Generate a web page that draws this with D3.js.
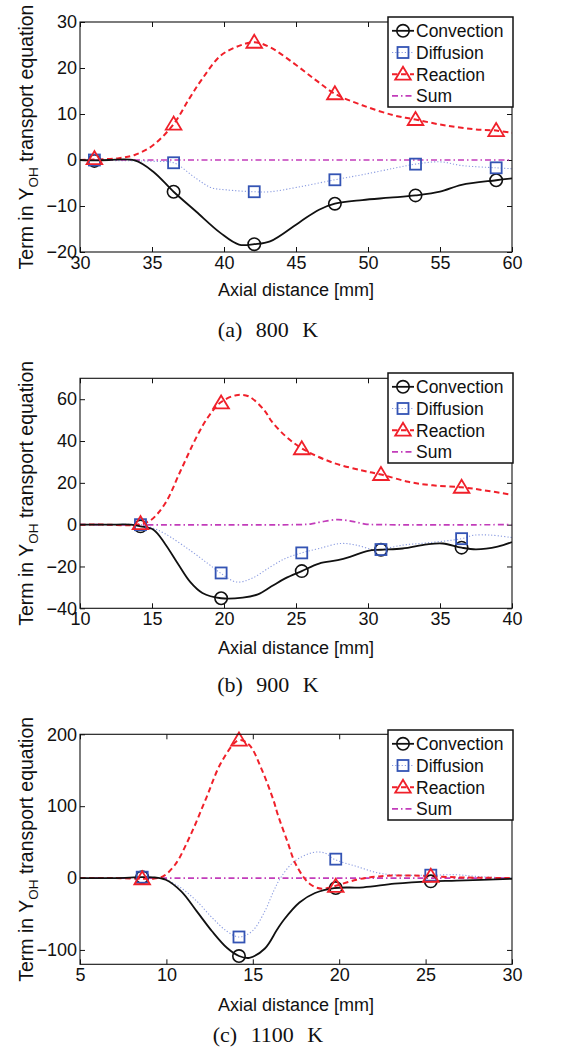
<!DOCTYPE html>
<html><head><meta charset="utf-8">
<script src="https://cdn.jsdelivr.net/npm/d3@7"></script>
<style>
html,body{margin:0;padding:0;background:#fff;}
svg{display:block;}
text{font-family:"Liberation Sans",Arial,sans-serif;fill:#111;}
.cap{font-family:"Liberation Serif","Times New Roman",serif;}
</style></head><body>
<svg id="chart" width="563" height="1060"></svg>
<script>
// ---------- Panel (a) 800 K ----------
const convX_a = [30, 31, 32, 33.8, 35.07, 36.5, 38.06, 39.77, 41.04, 42.1, 43.2, 45.3, 46.6, 47.7, 49.6, 51.5, 53.3, 55, 56.5, 58.9, 60];
const convY_a = [0, -0.1, 0, -0.1, -2.5, -6.9, -11.2, -15.9, -18.4, -18.3, -17.7, -13.4, -10.8, -9.5, -8.7, -8.2, -7.7, -6.9, -5.4, -4.4, -4.0];
const diffX_a = [30, 31, 32, 34, 35.2, 36.5, 38.06, 39.1, 40.2, 42.07, 43.2, 45.3, 47.7, 49.6, 51.8, 53.3, 55, 56.5, 58.9, 60];
const diffY_a = [0, 0, -0.1, -0.2, -0.3, -0.6, -4.0, -6.0, -6.5, -6.9, -6.9, -5.8, -4.3, -3.2, -1.8, -0.9, -0.4, -1.2, -1.7, -1.9];
const reacX_a = [30, 31, 32.7, 33.8, 35.07, 36.5, 37.6, 38.5, 39.77, 41.04, 42.1, 43.2, 44.9, 46.4, 47.7, 49.6, 51.8, 53.3, 55.2, 57.3, 58.9, 60];
const reacY_a = [0, 0.1, 0.4, 1.1, 3.2, 7.8, 13.4, 17.7, 22.7, 24.8, 25.6, 24.5, 20.9, 17.3, 14.4, 11.9, 9.7, 8.8, 7.6, 6.7, 6.4, 5.9];
const sumX_a = [30, 60];
const sumY_a = [0, 0];
const markX_a = [31, 36.5, 42.1, 47.7, 53.3, 58.9];
const convM_a = [-0.2, -6.9, -18.3, -9.5, -7.7, -4.4];
const diffM_a = [0, -0.6, -6.9, -4.3, -0.9, -1.7];
const reacM_a = [0.3, 7.8, 25.6, 14.4, 8.8, 6.4];
const xTicks_a = [30, 35, 40, 45, 50, 55, 60];
const yTicks_a = [-20, -10, 0, 10, 20, 30];

// ---------- Panel (b) 900 K ----------
const convX_b = [10, 12, 13.5, 14.2, 15.1, 15.9, 16.8, 17.65, 18.5, 19.8, 21.3, 22.35, 23.3, 24.25, 25.4, 26.6, 27.9, 28.75, 30.0, 30.9, 32.4, 34.1, 35.2, 36.5, 37.5, 39, 40];
const convY_b = [0, 0, 0, -0.8, -2.4, -9.1, -18.7, -27.4, -32.7, -35.2, -34.9, -33.3, -29.5, -25.7, -22.2, -18.6, -17.0, -15.4, -12.5, -12.0, -11.4, -9.4, -9.0, -11.0, -11.8, -10.5, -8.3];
const diffX_b = [10, 12, 14.2, 15.0, 15.9, 17.65, 18.9, 19.75, 20.85, 21.9, 23.2, 24.25, 25.4, 26.6, 28.1, 29.2, 30.5, 30.9, 32.4, 34.1, 36.5, 37.3, 38.5, 40];
const diffY_b = [0, 0, 0, -1.5, -4.3, -12.3, -18.7, -23.1, -27.4, -25.8, -20.3, -16.2, -13.5, -11.4, -9.0, -9.8, -12.2, -11.9, -9.8, -8.7, -6.7, -5.1, -5.0, -6.2];
const reacX_b = [10, 12, 13.5, 14.2, 14.9, 15.9, 17.0, 18.1, 18.9, 19.75, 20.85, 21.7, 22.8, 23.3, 24.25, 25.4, 27.5, 29.6, 30.9, 32.8, 34.5, 36.5, 38, 40];
const reacY_b = [0, 0, -0.3, 0.3, 2.1, 10, 26, 42, 51.5, 58.4, 61.9, 61.4, 54.7, 49.5, 42.5, 36.5, 29.8, 25.9, 24.0, 20.5, 18.8, 17.9, 16.5, 14.3];
const sumX_b = [10, 25, 26, 26.8, 27.9, 28.9, 29.8, 31, 40];
const sumY_b = [0, 0, 0.3, 1.4, 2.4, 1.6, 0.3, 0, 0];
const markX_b = [14.2, 19.8, 25.4, 30.9, 36.5];
const convM_b = [-0.8, -35.2, -22.2, -12.0, -11.0];
const diffM_b = [0, -23.1, -13.5, -11.9, -6.7];
const reacM_b = [0.5, 58.2, 36.3, 24.0, 17.9];
const xTicks_b = [10, 15, 20, 25, 30, 35, 40];
const yTicks_b = [-40, -20, 0, 20, 40, 60];

// ---------- Panel (c) 1100 K ----------
const convX_c = [5, 7, 8.6, 9.2, 9.96, 10.86, 11.75, 12.64, 13.5, 14.2, 14.8, 15.7, 16.4, 16.8, 17.7, 18.6, 19.7, 21.4, 23.2, 25.3, 26.8, 30];
const convY_c = [0, 0, 1.2, 1, -2.3, -18.5, -46, -74, -97, -108.5, -111, -98, -72, -58, -34, -20.8, -13.9, -12.9, -7.9, -4.6, -3.7, -1];
const diffX_c = [5, 7, 8.6, 9.2, 9.96, 10.86, 11.75, 12.64, 13.5, 14.2, 14.96, 15.7, 16.2, 16.6, 17.4, 18.5, 19.2, 19.7, 21.0, 22.3, 23.5, 25.3, 26.8, 27.9, 30];
const diffY_c = [0, 0, 1.2, 1, -2.3, -14, -32, -55, -74, -82, -74, -46, -18.5, 0, 23, 35.6, 34.6, 26.3, 16.2, 6.9, 4, 4, 4.6, 2.3, 0];
const reacX_c = [5, 7, 8.6, 9.3, 9.8, 10.5, 11.4, 12.3, 13.2, 14.2, 14.8, 15.5, 16.2, 16.45, 17.0, 17.5, 18.3, 19.0, 19.7, 21.0, 22.3, 24.1, 25.3, 26.8, 30];
const reacY_c = [0, 0, -1, -0.5, 2.3, 18.5, 60, 111, 162, 192, 185, 152, 108, 88, 51, 18.5, -8.3, -14.8, -11.5, -2.3, 2.3, 3.7, 2.5, 1, 0];
const sumX_c = [5, 30];
const sumY_c = [0, 0];
const markX_c = [8.6, 14.2, 19.8, 25.3];
const convM_c = [1.2, -108.5, -13.9, -4.6];
const diffM_c = [1.2, -82, 26.3, 4];
const reacM_c = [-1, 192, -11.5, 2.5];
const xTicks_c = [5, 10, 15, 20, 25, 30];
const yTicks_c = [-100, 0, 100, 200];

const seriesNames = ["Convection", "Diffusion", "Reaction", "Sum"];
const captions = ["(a) 800 K", "(b) 900 K", "(c) 1100 K"];

// ---------- layout ----------
const L = 80, R = 512;
const panels = [
  {top: 22, bottom: 252, xd: [30, 60], yd: [-20, 30], xt: xTicks_a, yt: yTicks_a,
   conv: [convX_a, convY_a], diff: [diffX_a, diffY_a], reac: [reacX_a, reacY_a], sum: [sumX_a, sumY_a],
   mx: markX_a, cm: convM_a, dm: diffM_a, rm: reacM_a, legTop: 17, xlab: 296, cap: 337, cap_t: captions[0]},
  {top: 378.3, bottom: 608.3, xd: [10, 40], yd: [-40, 70], xt: xTicks_b, yt: yTicks_b,
   conv: [convX_b, convY_b], diff: [diffX_b, diffY_b], reac: [reacX_b, reacY_b], sum: [sumX_b, sumY_b],
   mx: markX_b, cm: convM_b, dm: diffM_b, rm: reacM_b, legTop: 373, xlab: 654, cap: 692, cap_t: captions[1]},
  {top: 734.3, bottom: 964.3, xd: [5, 30], yd: [-120, 200], xt: xTicks_c, yt: yTicks_c,
   conv: [convX_c, convY_c], diff: [diffX_c, diffY_c], reac: [reacX_c, reacY_c], sum: [sumX_c, sumY_c],
   mx: markX_c, cm: convM_c, dm: diffM_c, rm: reacM_c, legTop: 730, xlab: 1011, cap: 1042, cap_t: captions[2]}
];

const styles = {
  conv: {stroke: "#111", width: 1.8, dash: null},
  diff: {stroke: "#8a9be0", width: 1.1, dash: "1.2,2"},
  reac: {stroke: "#f0202a", width: 2, dash: "5.5,3.5"},
  sum:  {stroke: "#c23cba", width: 1.7, dash: "6,3,1.5,3"}
};
const MCOL = {conv: "#111", diff: "#3454b4", reac: "#f0202a"};

const svg = d3.select("#chart");

function drawMarker(g, type, x, y) {
  if (type === "conv") {
    g.append("circle").attr("cx", x).attr("cy", y).attr("r", 6.2)
      .attr("fill", "none").attr("stroke", MCOL.conv).attr("stroke-width", 1.6);
  } else if (type === "diff") {
    g.append("rect").attr("x", x - 5.5).attr("y", y - 5.5).attr("width", 11).attr("height", 11)
      .attr("fill", "none").attr("stroke", MCOL.diff).attr("stroke-width", 1.8);
  } else if (type === "reac") {
    g.append("path").attr("d", `M${x},${y - 7.5}L${x - 7.8},${y + 5.5}L${x + 7.8},${y + 5.5}Z`)
      .attr("fill", "none").attr("stroke", MCOL.reac).attr("stroke-width", 1.8);
  }
}

panels.forEach((p, pi) => {
  const x = d3.scaleLinear().domain(p.xd).range([L, R]);
  const y = d3.scaleLinear().domain(p.yd).range([p.bottom, p.top]);
  const g = svg.append("g");

  const cid = "clip" + pi;
  svg.append("clipPath").attr("id", cid).append("rect")
    .attr("x", L).attr("y", p.top).attr("width", R - L).attr("height", p.bottom - p.top);

  const ax = [
    d3.axisBottom(x).tickValues(p.xt).tickSize(-5).tickSizeOuter(0).tickPadding(4).tickFormat(d3.format("d")),
    d3.axisTop(x).tickValues(p.xt).tickSize(-5).tickSizeOuter(0).tickFormat(""),
    d3.axisLeft(y).tickValues(p.yt).tickSize(-5).tickSizeOuter(0).tickPadding(3).tickFormat(d3.format("d")),
    d3.axisRight(y).tickValues(p.yt).tickSize(-5).tickSizeOuter(0).tickFormat("")
  ];
  const pos = [`translate(0,${p.bottom})`, `translate(0,${p.top})`, `translate(${L},0)`, `translate(${R},0)`];
  ax.forEach((a, i) => {
    const ag = g.append("g").attr("transform", pos[i]).call(a);
    ag.select(".domain").remove();
    ag.selectAll(".tick line").attr("stroke", "#111").attr("stroke-width", 1);
    ag.selectAll(".tick text").attr("font-size", 18).attr("fill", "#111")
      .style("font-family", '"Liberation Sans",Arial,sans-serif');
  });

  const plot = g.append("g").attr("clip-path", `url(#${cid})`);
  const line = d3.line().x(d => x(d[0])).y(d => y(d[1])).curve(d3.curveCatmullRom.alpha(0.5));
  ["diff", "sum", "reac", "conv"].forEach(k => {
    const pts = p[k][0].map((v, i) => [v, p[k][1][i]]);
    const s = styles[k];
    plot.append("path").attr("d", line(pts)).attr("fill", "none")
      .attr("stroke", s.stroke).attr("stroke-width", s.width)
      .attr("stroke-dasharray", s.dash);
  });
  const mg = g.append("g");
  p.mx.forEach((mx, i) => {
    drawMarker(mg, "conv", x(mx), y(p.cm[i]));
    drawMarker(mg, "diff", x(mx), y(p.dm[i]));
    drawMarker(mg, "reac", x(mx), y(p.rm[i]));
  });

  g.append("rect").attr("x", L).attr("y", p.top).attr("width", R - L).attr("height", p.bottom - p.top)
    .attr("fill", "none").attr("stroke", "#111").attr("stroke-width", 1.1);

  const lg = g.append("g");
  const lt = p.legTop;
  lg.append("rect").attr("x", 388).attr("y", lt).attr("width", 125).attr("height", 90)
    .attr("fill", "#fff").attr("stroke", "#111").attr("stroke-width", 1.5);
  ["conv", "diff", "reac", "sum"].forEach((k, i) => {
    const cy = lt + 13.8 + 21.7 * i;
    const s = styles[k];
    lg.append("line").attr("x1", 392).attr("x2", 414).attr("y1", cy).attr("y2", cy)
      .attr("stroke", s.stroke).attr("stroke-width", s.width).attr("stroke-dasharray", s.dash);
    drawMarker(lg, k, 403, cy);
    lg.append("text").attr("x", 416).attr("y", cy + 6.3).attr("font-size", 17.5).text(seriesNames[i]);
  });

  g.append("text").attr("x", (L + R) / 2).attr("y", p.xlab).attr("text-anchor", "middle")
    .attr("font-size", 18).text("Axial distance [mm]");
  const yl = g.append("text")
    .attr("transform", `translate(33,${(p.top + p.bottom) / 2}) rotate(-90)`)
    .attr("text-anchor", "middle").attr("font-size", 19.5);
  yl.append("tspan").text("Term in Y");
  yl.append("tspan").attr("font-size", 13.5).attr("dy", 5).text("OH");
  yl.append("tspan").attr("dy", -5).text(" transport equation");

  g.append("text").attr("class", "cap").attr("x", 268).attr("y", p.cap).attr("text-anchor", "middle")
    .attr("font-size", 22).attr("word-spacing", 8).text(p.cap_t);
});
</script>
</body></html>
